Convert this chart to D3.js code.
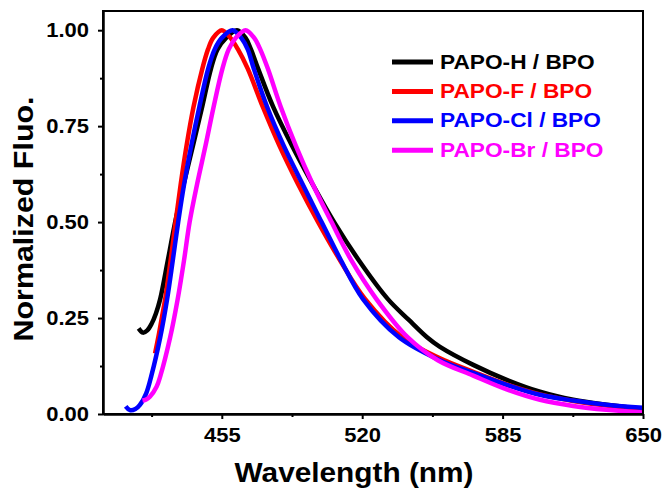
<!DOCTYPE html>
<html>
<head>
<meta charset="utf-8">
<script src="https://cdn.jsdelivr.net/npm/d3@7"></script>
<style>
  html, body { margin: 0; padding: 0; background: #fff; }
  svg { display: block; }
  text { font-family: "Liberation Sans", Arial, sans-serif; font-weight: bold; }
</style>
</head>
<body>
<svg id="chart" width="665" height="497"></svg>
<script>
// Emission spectra (normalized), wavelength in nm
const seriesNames = ["PAPO-H / BPO", "PAPO-F / BPO", "PAPO-Cl / BPO", "PAPO-Br / BPO"];
const seriesColors = ["#000000", "#ff0000", "#0000ff", "#ff00ff"];

const hWl   = [416.5, 418.5, 420.5, 422.5, 424.5, 426.5, 430.0, 433.4, 437.4, 441.7, 445.9, 450.0, 453.0, 457.0, 462.0, 466.0, 468.5, 471.8, 478.8, 487.4, 496.9, 507.0, 518.5, 531.8, 541.6, 550.0, 556.0, 571.4, 586.9, 602.3, 617.7, 633.0, 650.0];
const hFluo = [0.223, 0.212, 0.218, 0.235, 0.262, 0.300, 0.400, 0.500, 0.600, 0.700, 0.800, 0.900, 0.950, 0.980, 1.000, 0.980, 0.950, 0.900, 0.800, 0.700, 0.600, 0.500, 0.400, 0.300, 0.245, 0.200, 0.175, 0.128, 0.089, 0.058, 0.037, 0.024, 0.013];

const fWl   = [424.1, 425.6, 427.2, 428.8, 431.3, 433.6, 436.0, 438.7, 441.9, 446.0, 448.6, 451.0, 455.0, 459.0, 462.5, 467.0, 474.0, 481.6, 490.2, 499.6, 509.8, 521.3, 538.5, 556.0, 571.4, 586.9, 602.3, 617.7, 633.0, 650.0];
const fFluo = [0.158, 0.200, 0.250, 0.300, 0.400, 0.500, 0.600, 0.700, 0.800, 0.900, 0.950, 0.980, 1.000, 0.980, 0.950, 0.900, 0.800, 0.700, 0.600, 0.500, 0.400, 0.300, 0.200, 0.145, 0.110, 0.077, 0.051, 0.034, 0.022, 0.014];

const clWl   = [410.5, 412.5, 415.0, 417.0, 420.0, 422.4, 426.5, 429.7, 432.3, 434.8, 437.6, 440.9, 444.6, 448.7, 451.7, 455.0, 460.0, 464.0, 467.0, 469.8, 476.0, 483.6, 492.3, 501.2, 510.2, 520.3, 537.0, 556.0, 571.4, 586.9, 602.3, 617.7, 633.0, 650.0];
const clFluo = [0.020, 0.010, 0.013, 0.023, 0.054, 0.100, 0.200, 0.300, 0.400, 0.500, 0.600, 0.700, 0.800, 0.900, 0.950, 0.980, 1.000, 0.980, 0.950, 0.900, 0.800, 0.700, 0.600, 0.500, 0.400, 0.300, 0.200, 0.140, 0.107, 0.076, 0.050, 0.035, 0.024, 0.016];

const brWl   = [418.3, 420.0, 421.7, 424.8, 426.6, 431.1, 434.6, 437.5, 440.1, 443.6, 447.5, 451.2, 455.3, 458.2, 461.5, 466.0, 470.0, 472.8, 476.3, 482.3, 489.2, 497.0, 505.8, 515.0, 526.5, 541.0, 555.0, 571.4, 586.9, 602.3, 617.7, 633.0, 650.0];
const brFluo = [0.035, 0.038, 0.045, 0.071, 0.100, 0.200, 0.300, 0.400, 0.500, 0.600, 0.700, 0.800, 0.900, 0.950, 0.980, 1.000, 0.980, 0.950, 0.900, 0.800, 0.700, 0.600, 0.500, 0.400, 0.300, 0.200, 0.140, 0.100, 0.064, 0.037, 0.021, 0.011, 0.004];

const xMajorTicks = [455, 520, 585, 650];
const xMinorTicks = [422.5, 487.5, 552.5, 617.5];
const yMajorTicks = [0, 0.25, 0.5, 0.75, 1.0];
const yMinorTicks = [0.125, 0.375, 0.625, 0.875];

const xTitle = "Wavelength (nm)";
const yTitle = "Normalized Fluo.";

const allSeries = [
  { name: seriesNames[0], color: seriesColors[0], wl: hWl,  v: hFluo },
  { name: seriesNames[1], color: seriesColors[1], wl: fWl,  v: fFluo },
  { name: seriesNames[2], color: seriesColors[2], wl: clWl, v: clFluo },
  { name: seriesNames[3], color: seriesColors[3], wl: brWl, v: brFluo }
];

const svg = d3.select("#chart");
const plot = { left: 103, right: 643, top: 11, bottom: 414 };

const x = d3.scaleLinear().domain([400, 650]).range([plot.left, plot.right]);
const y = d3.scaleLinear().domain([0, 1.05]).range([plot.bottom, plot.top]);

// stretch a text node horizontally to a given factor of its natural width
function stretch(sel, k) {
  sel.each(function () {
    const w = this.getComputedTextLength();
    d3.select(this).attr("textLength", w * k).attr("lengthAdjust", "spacingAndGlyphs");
  });
}

// spectra
const line = d3.line()
  .x(d => x(d[0]))
  .y(d => y(d[1]))
  .curve(d3.curveCatmullRom.alpha(0.5));

svg.append("g").selectAll("path")
  .data(allSeries)
  .join("path")
  .attr("d", s => line(s.wl.map((w, i) => [w, s.v[i]])))
  .attr("fill", "none")
  .attr("stroke", s => s.color)
  .attr("stroke-width", 4.5)
  .attr("stroke-linejoin", "round");

// axes
function styleAxis(g) {
  g.selectAll("path.domain").attr("stroke", "#000").attr("stroke-width", 2);
  g.selectAll(".tick line").attr("stroke", "#000").attr("stroke-width", 2);
}

const gx = svg.append("g")
  .attr("transform", `translate(0,${plot.bottom})`)
  .call(d3.axisBottom(x).tickValues(xMajorTicks).tickSize(5).tickPadding(9).tickSizeOuter(0).tickFormat(d3.format("d")));
styleAxis(gx);
gx.selectAll("text").attr("font-size", 20).attr("fill", "#000");

const gxm = svg.append("g")
  .attr("transform", `translate(0,${plot.bottom})`)
  .call(d3.axisBottom(x).tickValues(xMinorTicks).tickSize(3).tickSizeOuter(0).tickFormat(""));
styleAxis(gxm);

const gy = svg.append("g")
  .attr("transform", `translate(${plot.left},0)`)
  .call(d3.axisLeft(y).tickValues(yMajorTicks).tickSize(5).tickPadding(9).tickSizeOuter(0).tickFormat(d3.format(".2f")));
styleAxis(gy);
gy.selectAll("text").attr("font-size", 20).attr("fill", "#000");

const gym = svg.append("g")
  .attr("transform", `translate(${plot.left},0)`)
  .call(d3.axisLeft(y).tickValues(yMinorTicks).tickSize(3).tickSizeOuter(0).tickFormat(""));
styleAxis(gym);

// frame
svg.append("rect")
  .attr("x", plot.left).attr("y", plot.top)
  .attr("width", plot.right - plot.left).attr("height", plot.bottom - plot.top)
  .attr("fill", "none").attr("stroke", "#000").attr("stroke-width", 2);

stretch(gx.selectAll("text"), 1.1);
stretch(gy.selectAll("text"), 1.1);

// axis titles
const xt = svg.append("text")
  .attr("x", 354).attr("y", 482)
  .attr("text-anchor", "middle")
  .attr("font-size", 28)
  .text(xTitle);
stretch(xt, 1.064);

const yt = svg.append("text")
  .attr("transform", "translate(33,219) rotate(-90)")
  .attr("text-anchor", "middle")
  .attr("font-size", 28)
  .text(yTitle);
stretch(yt, 1.086);

// legend
const legend = svg.append("g").attr("transform", "translate(392,62)");
const rows = legend.selectAll("g")
  .data(allSeries)
  .join("g")
  .attr("transform", (d, i) => `translate(0,${i * 29.4})`);
rows.append("line")
  .attr("x1", 0).attr("x2", 41).attr("y1", 0).attr("y2", 0)
  .attr("stroke", d => d.color).attr("stroke-width", 5);
const lt = rows.append("text")
  .attr("x", 48).attr("y", 6.5)
  .attr("font-size", 21)
  .attr("fill", d => d.color)
  .text(d => d.name);
stretch(lt, 1.08);
</script>
</body>
</html>
